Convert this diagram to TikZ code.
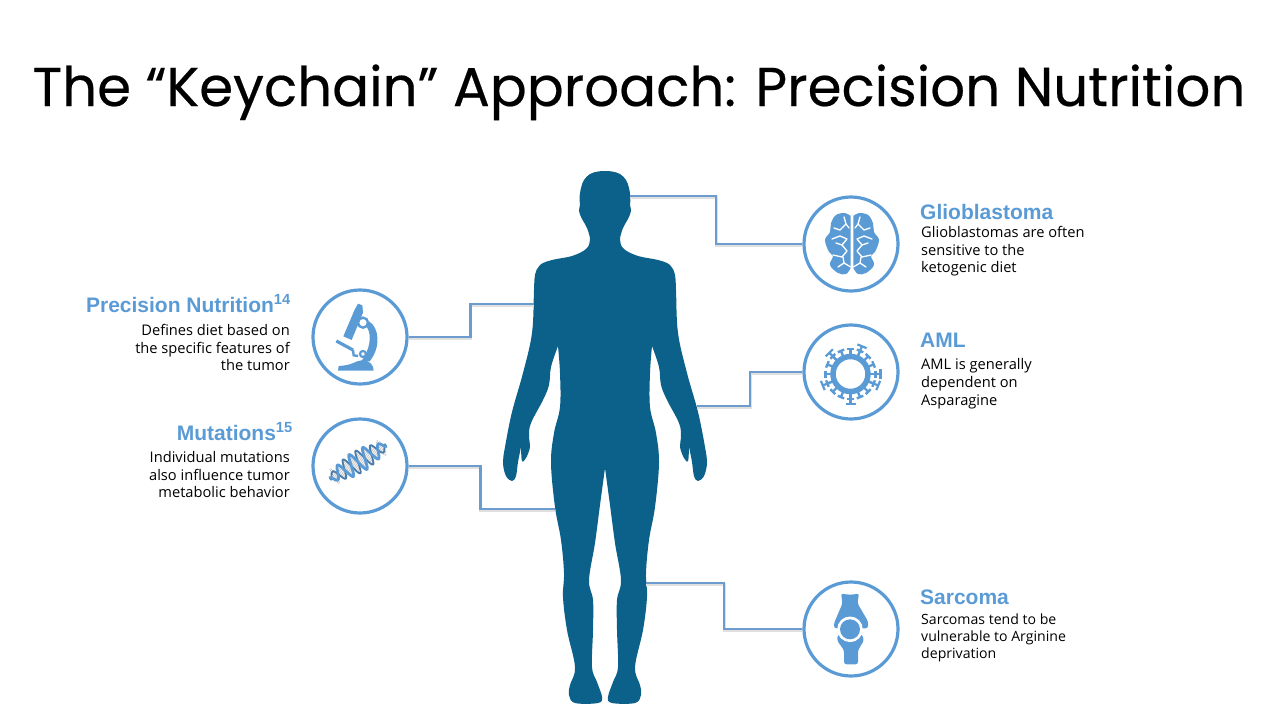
\documentclass[tikz,border=0pt]{standalone}
\usepackage{fontspec}
\setmainfont{Open Sans}
\newfontfamily\titlefont[FakeBold=0.35]{Poppins}
\newfontfamily\headfont{Liberation Sans}
\usetikzlibrary{positioning}
\definecolor{bodyblue}{HTML}{0B6189}
\definecolor{iconblue}{HTML}{5B9BD5}
\definecolor{linkblue}{HTML}{6C9BCD}
\tikzset{%
  ring/.style = {circle,draw=iconblue,line width=3.2pt,inner sep=0pt,minimum size=94pt},
  link/.style = {draw=linkblue,line width=2.4pt,
        preaction={draw=black!12,line width=3pt,transform canvas={shift={(0pt,-1.4pt)}}}},
  heading/.style = {font=\headfont\bfseries\fontsize{21}{24}\selectfont,text=iconblue,inner sep=0pt},
  blurbr/.style = {font=\fontsize{14.65}{17.7}\selectfont,align=left,anchor=north west,inner sep=0pt},
  blurbl/.style = {font=\fontsize{14.65}{17.7}\selectfont,align=right,anchor=north east,inner sep=0pt},
  vein/.style = {draw=white,line width=1.3pt,line cap=round,line join=round}
}
\newcommand{\bodyside}{
  plot[smooth,tension=.6] coordinates {(606,171) (598,171.5) (590,174) (584,180) (581,188) (579.5,198) (580,205) (579,211) (582,219) (587,228) (590,240) (586,249) (572,256) (552,260) (540,265) (535,275) (534,290) (532,333) (523,373) (512,412) (505,447) (503,463) (506,476) (512,481) (516,476) (518,462) (521,447)}
  -- plot[smooth,tension=.6] coordinates {(521,447) (522,461) (526,458) (530,447) (529,436) (531,423) (543,400) (549,385) (551,367) (558,346)}
  -- plot[smooth,tension=.6] coordinates {(558,346) (560,373) (560,407) (554,433) (551,463) (555,507) (561,540) (564,573) (563,597) (567,630) (575,667) (570,685) (569,695) (575,703) (598,703) (602,697) (597,682) (592,667) (593,630) (593,600) (589,580) (595,543) (600,505) (605,468)}
}
\newcommand{\brainside}{
  \fill[iconblue] plot[smooth,tension=.6] coordinates {(-1.3,-27) (-7,-30) (-16,-28) (-21,-20) (-22,-11) (-27,-3) (-23,9) (-19,13) (-22,22) (-14,30) (-6,31) (-1.3,25)} -- cycle;
  \draw[vein] (-8,-26) -- (-6,-19) -- (-12,-13) -- (-18,-15);
  \draw[vein] (-6,-19) -- (-3,-15);
  \draw[vein] (-20,-4) -- (-12,-7) -- (-5,-4) -- (-10,2) -- (-16,0);
  \draw[vein] (-10,2) -- (-5,8) -- (-10,14) -- (-19,12);
  \draw[vein] (-1.3,24) -- (-8,20) -- (-14,24);
  \draw[vein] (-8,20) -- (-9,14);
}
\begin{document}
\begin{tikzpicture}[x=1pt,y=-1pt]
\useasboundingbox (0,0) rectangle (1280,720);
\node[inner sep=0pt,anchor=base] (title) at (639,106) {\titlefont\fontsize{54.7}{60}\selectfont The “Keychain” Approach: Precision Nutrition};

\fill[bodyblue] \bodyside -- cycle;
\begin{scope}[xshift=1210pt,xscale=-1]
\fill[bodyblue] \bodyside -- cycle;
\end{scope}
\fill[bodyblue] (604,175) rectangle (606,465);

\node[ring] (glio) at (851,244) {};
\node[ring] (aml) at (851,372) {};
\node[ring] (sarc) at (851,629) {};
\node[ring] (micro) at (360,337) {};
\node[ring] (dna) at (360,466) {};

\coordinate (headpt) at (630,196);
\coordinate (armpt) at (697,406);
\coordinate (legpt) at (646,583);
\coordinate (chestpt) at (534,304);
\coordinate (hippt) at (555,509);

\draw[link] (headpt) -- ++(86,0) |- (glio.west);
\draw[link] (armpt) -- ++(53,0) |- (aml.west);
\draw[link] (legpt) -- ++(78,0) |- (sarc.west);
\draw[link] (micro.east) -- ++(62,0) |- (chestpt);
\draw[link] (dna.east) -- ++(72,0) |- (hippt);

\node[heading,anchor=base west] (gliohead) at (920,219) {Glioblastoma};
\node[blurbr] (gliotext) at (921,226) {Glioblastomas are often\\sensitive to the\\ketogenic diet};
\node[heading,anchor=base west] (amlhead) at (920,347) {AML};
\node[blurbr] (amltext) at (921,358.5) {AML is generally\\dependent on\\Asparagine};
\node[heading,anchor=base west] (sarchead) at (920,604) {Sarcoma};
\node[blurbr,font=\fontsize{14.1}{16.8}\selectfont] (sarctext) at (921,614) {Sarcomas tend to be\\vulnerable to Arginine\\deprivation};
\node[heading,anchor=base east] (microhead) at (291,312) {Precision Nutrition\textsuperscript{14}};
\node[blurbl] (microtext) at (290,324) {Defines diet based on\\the specific features of\\the tumor};
\node[heading,anchor=base east] (dnahead) at (293,440) {Mutations\textsuperscript{15}};
\node[blurbl] (dnatext) at (290,451) {Individual mutations\\also influence tumor\\metabolic behavior};

% brain
\begin{scope}[shift={(852,243)}]
\brainside
\begin{scope}[xscale=-1]
\brainside
\end{scope}
\end{scope}

% virus
\begin{scope}[shift={(850.5,374)}]
\foreach \a in {0,22.5,...,337.5}
  \draw[iconblue,line width=2.4pt,rotate=\a] (17,0) -- (25,0) (25,-3.5) -- (25,3.5);
\foreach \a in {0,67.5,...,337.5}
  \draw[iconblue,line width=2.2pt,rotate=\a] (17,0) -- (30,0) (30,-5) -- (30,5);
\draw[iconblue,line width=5.5pt] (0,0) circle (17.5);
\end{scope}

% joint
\begin{scope}[shift={(850,628.3)}]
\fill[iconblue,rounded corners=2.5pt] (-9,-35) .. controls (-3,-33.5) and (3,-33.5) .. (9,-35) -- (7.5,-25)
  -- (18,-7) -- (18,0) -- (-16,0) -- (-16,-5) -- (-7.5,-25) -- cycle;
\fill[iconblue,rounded corners=2.5pt] (-6,36) -- (8,36) -- (8,22) -- (14,12)
  -- (12,6) -- (-12,6) -- (-13,12) -- (-6,22) -- cycle;
\fill[white] (0,1) circle (12.8);
\fill[iconblue] (0,1) circle (10);
\end{scope}

% microscope
\begin{scope}[shift={(303,282)},x=0.3333pt,y=-0.3333pt]
\fill[iconblue] (121,163) -- (155,83) -- (165,65) -- (178,70) -- (180,92) -- (146,174) -- cycle;
\draw[iconblue,line width=2.4pt] (180,122) circle (15);
\fill[iconblue] (198,118) .. controls (228,135) and (235,195) .. (200,238) -- (175,238)
  .. controls (200,205) and (208,160) .. (192,136) -- cycle;
\fill[iconblue] (105,266) -- (212,266) .. controls (212,250) and (200,233) .. (175,235)
  .. controls (155,237) and (150,250) .. (107,252) -- cycle;
\draw[iconblue,line width=3.2pt] (100,177) -- (150,204);
\draw[iconblue,line width=2.4pt] (150,204) -- (152,220) -- (165,222);
\draw[iconblue,line width=2.2pt] (180,216) circle (9);
\end{scope}

% helix
\begin{scope}[shift={(358,462)},rotate=31]
\foreach \x in {-31,-29.5,...,31}
  \draw[black!25,line width=.6pt] (\x,{9*sin(\x*23.2)}) -- (\x,{-9*sin(\x*23.2)});
\draw[iconblue!80!black,line width=1.8pt] plot[domain=-33:33,samples=90,smooth] (\x,{-(11-\x*\x/120)*sin(\x*23.2)});
\draw[iconblue,line width=2.8pt] plot[domain=-33:33,samples=90,smooth] (\x,{(11-\x*\x/120)*sin(\x*23.2)});
\end{scope}
\end{tikzpicture}
\end{document}
